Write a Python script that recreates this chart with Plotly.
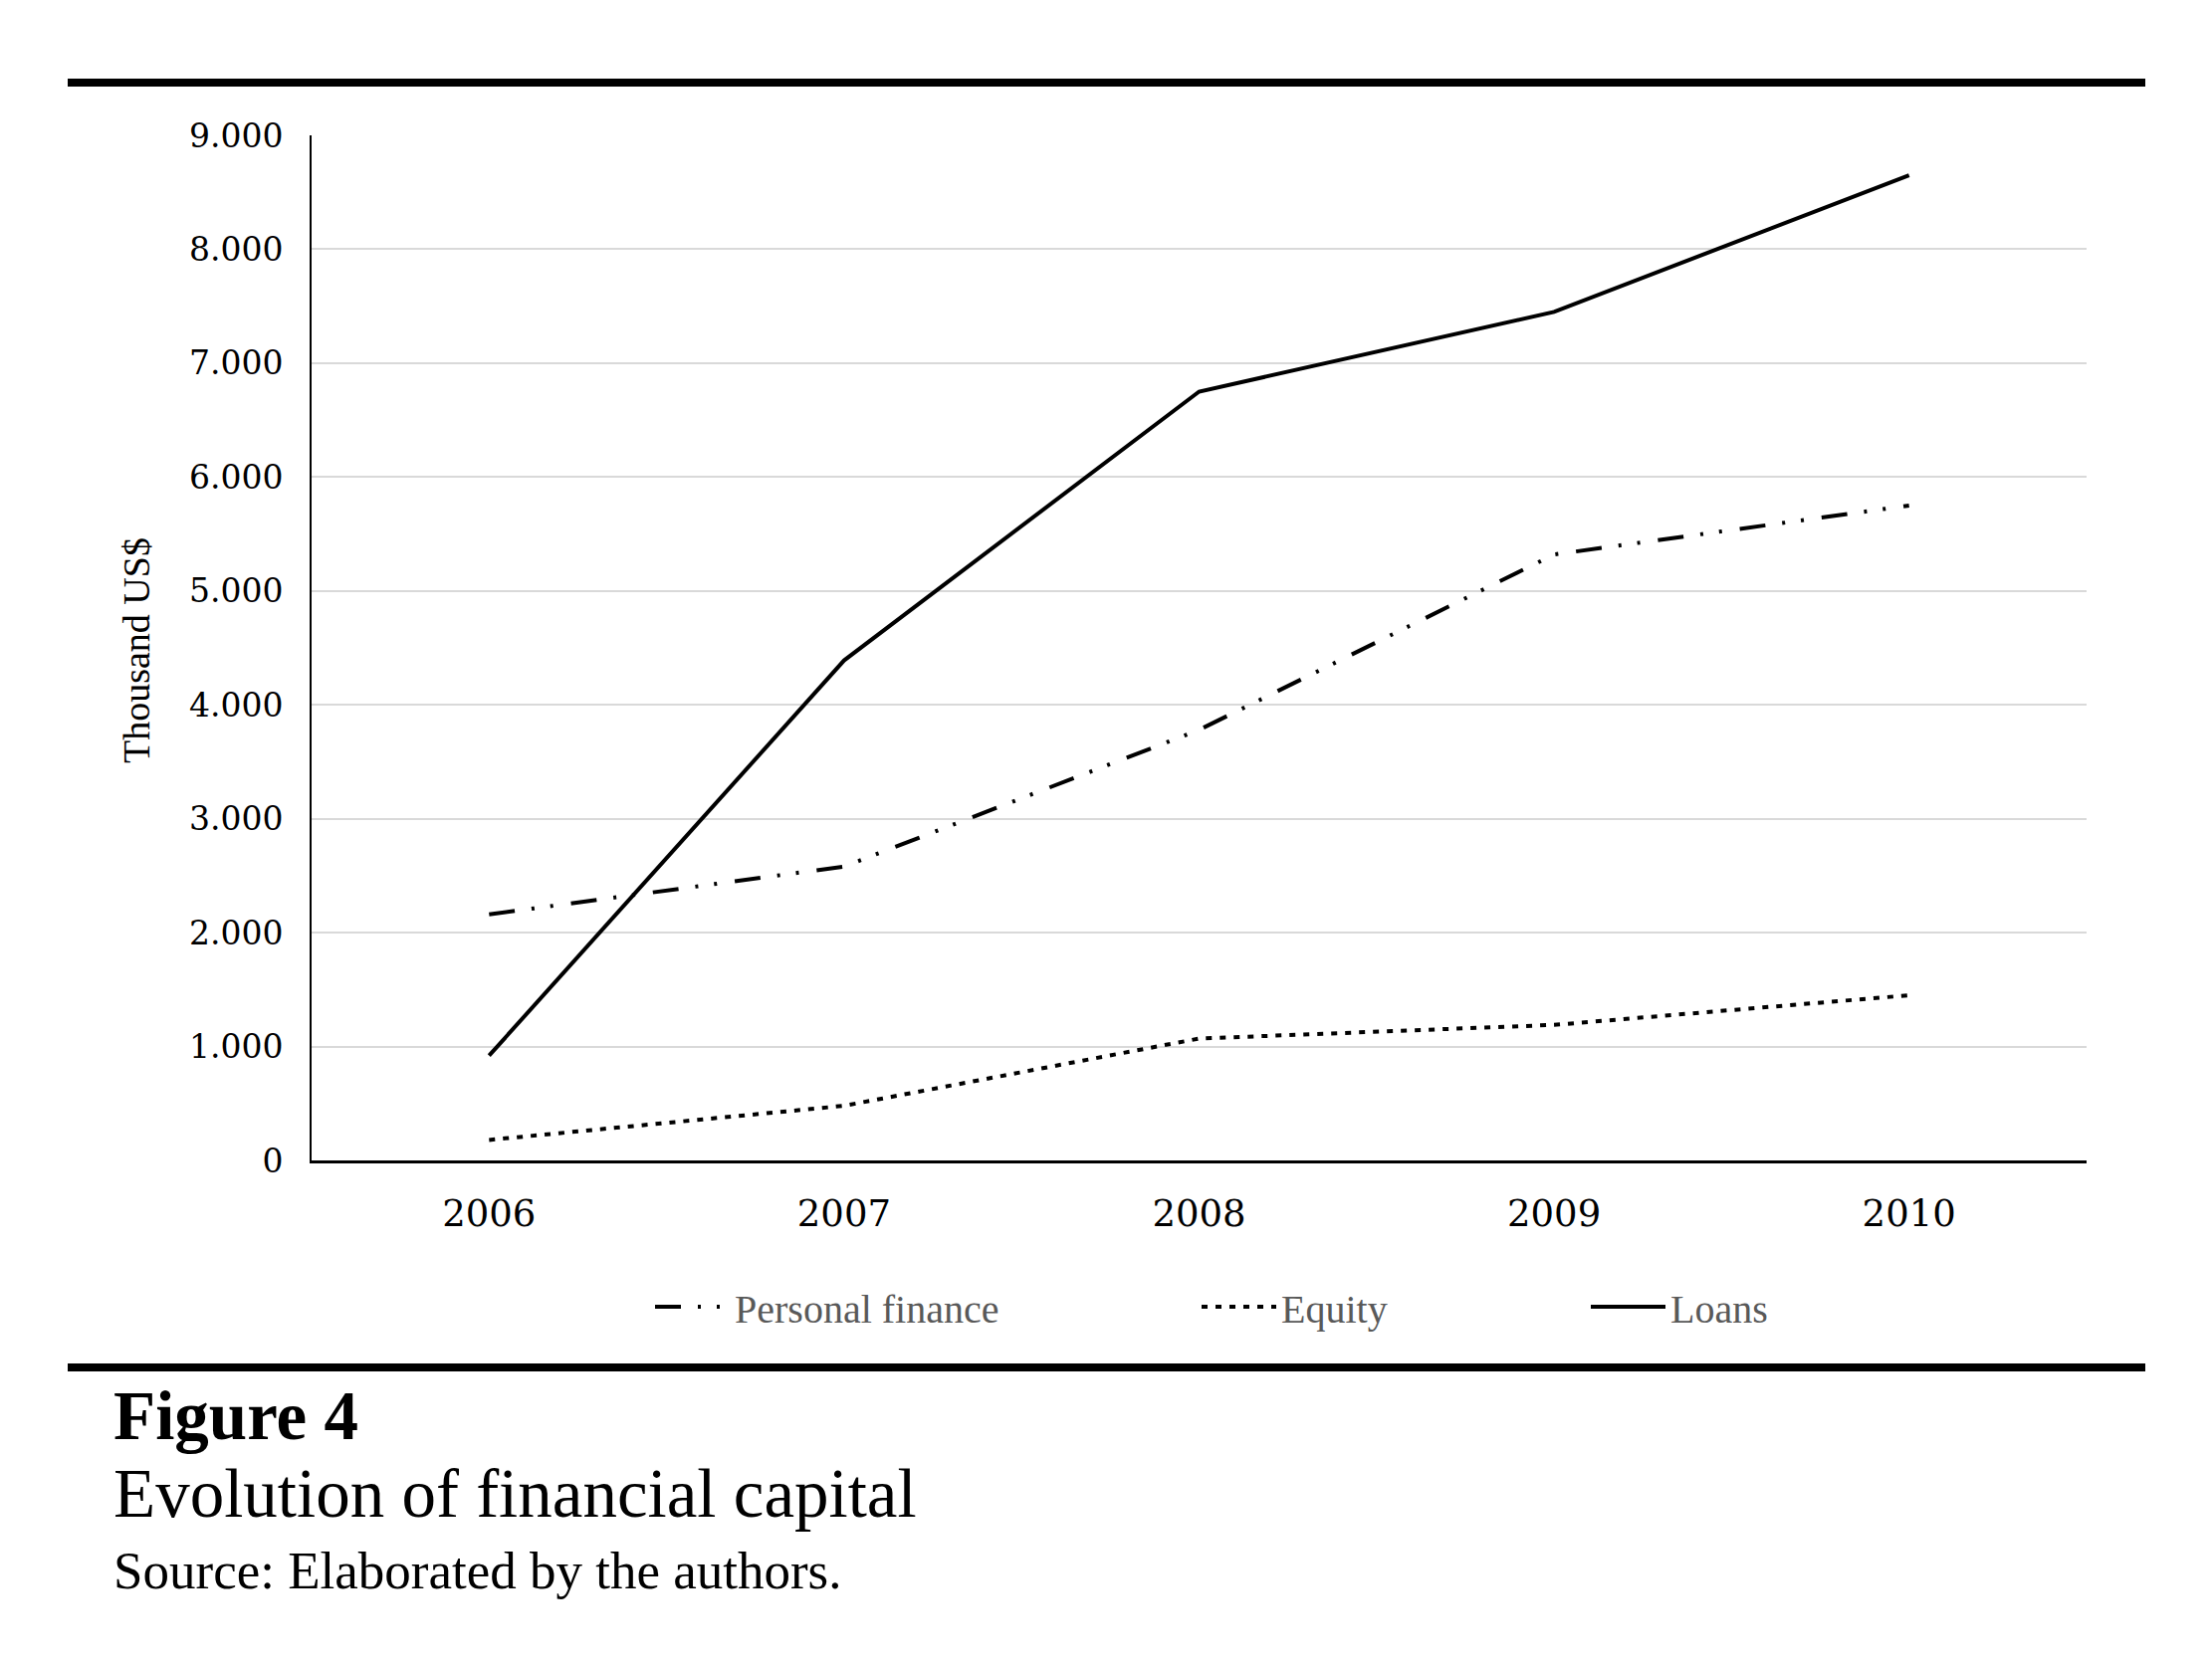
import plotly.graph_objects as go

years = ["2006", "2007", "2008", "2009", "2010"]
personal_finance = [2160, 2580, 3780, 5320, 5750]
equity = [180, 480, 1070, 1190, 1450]
loans = [920, 4390, 6750, 7450, 8650]
y_ticks = [0, 1000, 2000, 3000, 4000, 5000, 6000, 7000, 8000, 9000]
y_tick_text = ["0", "1.000", "2.000", "3.000", "4.000", "5.000", "6.000", "7.000", "8.000", "9.000"]

OFF = 8  # default page body margin
W, H = 2222 - 2 * OFF, 1675 - 2 * OFF
# plot area in page pixel coordinates
L_P, R_P, T_P, B_P = 313, 2096, 136, 1166
L, R, T, B = L_P - OFF, R_P - OFF, T_P - OFF, B_P - OFF
PW, PH = R - L, B - T


def px(x_page):
    return (x_page - OFF - L) / PW


def py(y_page):
    return (B - (y_page - OFF)) / PH


fig = go.Figure()
fig.add_trace(go.Scatter(x=years, y=personal_finance, mode="lines", name="Personal finance",
                         line=dict(color="black", width=4, dash="26px,17px,3px,16px,3px,18px"),
                         legend="legend"))
fig.add_trace(go.Scatter(x=years, y=equity, mode="lines", name="Equity",
                         line=dict(color="black", width=4, dash="6px,8px"),
                         legend="legend2"))
fig.add_trace(go.Scatter(x=years, y=loans, mode="lines", name="Loans",
                         line=dict(color="black", width=4),
                         legend="legend3"))

legend_common = dict(orientation="h", yanchor="middle", xanchor="left",
                     font=dict(family="Liberation Serif", size=40, color="#595959"),
                     itemwidth=75, bgcolor="rgba(0,0,0,0)", borderwidth=0)
leg_y = py(1313)
fig.update_layout(
    legend=dict(x=px(653), y=leg_y, **legend_common),
    legend2=dict(x=px(1202), y=leg_y, **legend_common),
    legend3=dict(x=px(1593), y=leg_y, **legend_common),
)

fig.update_xaxes(type="category", range=[-0.5, 4.5], showgrid=False,
                 showline=True, linecolor="black", linewidth=3,
                 ticks="", ticklabelstandoff=19,
                 tickfont=dict(family="DejaVu Serif", size=37, color="black"),
                 zeroline=False)
fig.update_yaxes(range=[0, 9000], tickvals=y_ticks, ticktext=y_tick_text,
                 showgrid=True, gridcolor="#d9d9d9", gridwidth=2,
                 showline=True, linecolor="black", linewidth=2,
                 ticks="", ticklabelstandoff=20,
                 tickfont=dict(family="DejaVu Serif", size=33, color="black"),
                 zeroline=False)

shapes = [
    dict(type="rect", xref="paper", yref="paper", x0=px(68), x1=px(2155), y0=py(87), y1=py(79),
         fillcolor="black", line=dict(width=0), layer="above"),
    dict(type="rect", xref="paper", yref="paper", x0=px(68), x1=px(2155), y0=py(1378), y1=py(1370),
         fillcolor="black", line=dict(width=0), layer="above"),
]

annotations = [
    dict(text="Thousand US$", xref="paper", yref="paper", x=px(137), y=py(654), textangle=-90,
         showarrow=False, xanchor="center", yanchor="middle",
         font=dict(family="Liberation Serif", size=38, color="black")),
    dict(text="<b>Figure 4</b>", xref="paper", yref="paper", x=px(112), y=py(1423),
         showarrow=False, xanchor="left", yanchor="middle",
         font=dict(family="Liberation Serif", size=69, color="black")),
    dict(text="Evolution of financial capital", xref="paper", yref="paper", x=px(112), y=py(1501),
         showarrow=False, xanchor="left", yanchor="middle",
         font=dict(family="Liberation Serif", size=69, color="black")),
    dict(text="Source: Elaborated by the authors.", xref="paper", yref="paper", x=px(112), y=py(1578),
         showarrow=False, xanchor="left", yanchor="middle",
         font=dict(family="Liberation Serif", size=53, color="black")),
]

fig.update_layout(
    width=W, height=H,
    margin=dict(l=L, r=W - R, t=T, b=H - B, pad=0),
    paper_bgcolor="white", plot_bgcolor="white",
    shapes=shapes, annotations=annotations,
    showlegend=True,
)

fig.write_html("out.html")
